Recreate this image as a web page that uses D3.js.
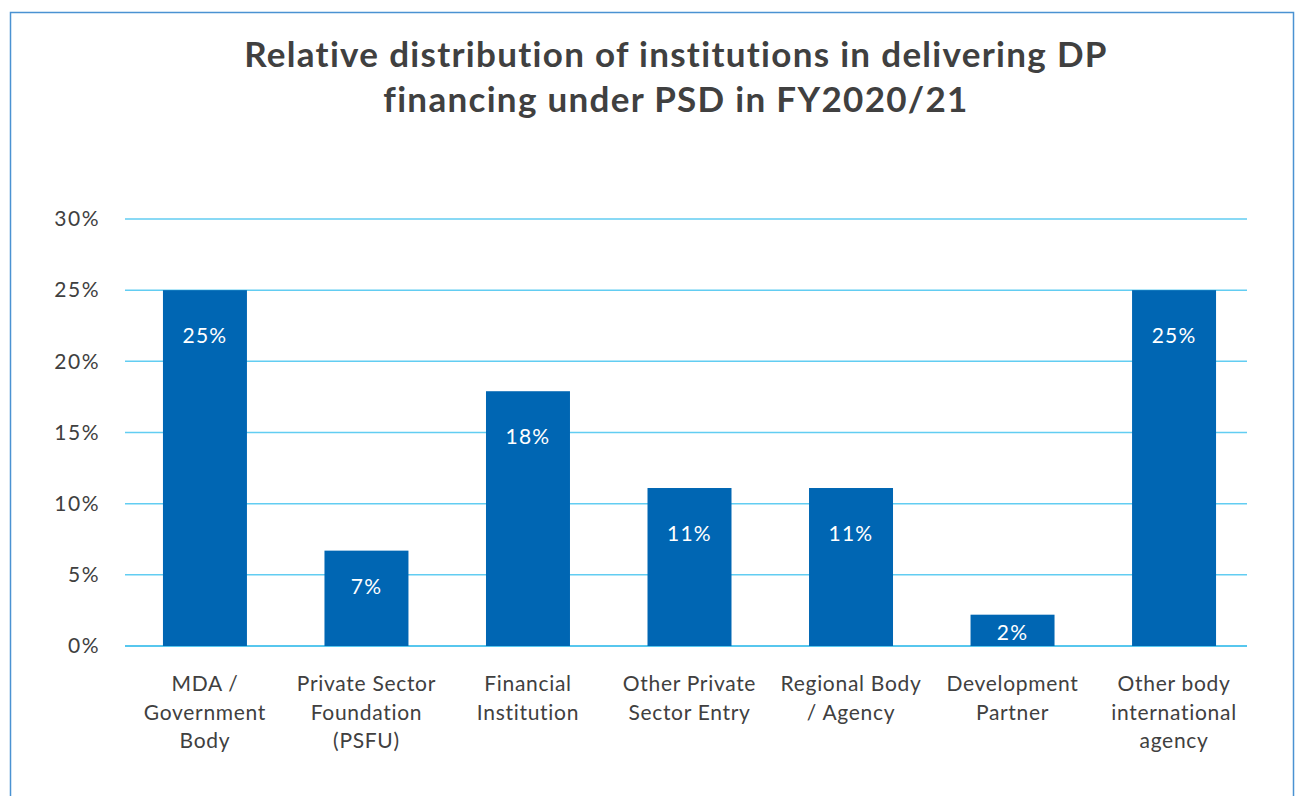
<!DOCTYPE html>
<html>
<head>
<meta charset="utf-8">
<script src="https://cdn.jsdelivr.net/npm/d3@7"></script>
<style>
  body { margin: 0; background: #fff; }
  svg { display: block; font-family: "Lato", "DejaVu Sans", sans-serif; }
</style>
</head>
<body>
<script>
// chart data
var categories = [
  ["MDA /", "Government", "Body"],
  ["Private Sector", "Foundation", "(PSFU)"],
  ["Financial", "Institution"],
  ["Other Private", "Sector Entry"],
  ["Regional Body", "/ Agency"],
  ["Development", "Partner"],
  ["Other body", "international", "agency"]
];
var values = [25, 6.7, 17.9, 11.1, 11.1, 2.2, 25];
var valueLabels = ["25%", "7%", "18%", "11%", "11%", "2%", "25%"];
var yTicks = [0, 5, 10, 15, 20, 25, 30];
var titleLines = ["Relative distribution of institutions in delivering DP",
                  "financing under PSD in FY2020/21"];

var width = 1295, height = 796;
var margin = {top: 219, left: 125};
var gridW = 1122;   // gridline length
var h = 646 - margin.top;

var svg = d3.select("body")
  .append("svg")
  .attr("width", width)
  .attr("height", height);

// outer frame
svg.append("rect")
  .attr("x", 10.5)
  .attr("y", 12.5)
  .attr("width", 1283)
  .attr("height", 800)
  .attr("fill", "none")
  .attr("stroke", "#4a92d2")
  .attr("stroke-width", 1.5);

// title
svg.append("text")
  .attr("text-anchor", "middle")
  .attr("font-weight", "bold")
  .attr("font-size", 35)
  .attr("letter-spacing", 1.3)
  .attr("fill", "#404040")
  .selectAll("tspan")
  .data(titleLines)
  .enter()
  .append("tspan")
  .attr("x", 676)
  .attr("y", function(d, i) { return 67 + i * 45; })
  .text(function(d) { return d; });

var g = svg.append("g")
  .attr("transform", "translate(" + margin.left + "," + margin.top + ")");

var x = d3.scaleBand()
  .domain(d3.range(categories.length))
  .range([0, 1129])
  .paddingInner(0.48)
  .paddingOuter(0.235);

var y = d3.scaleLinear()
  .domain([0, 30])
  .range([h, 0]);

// gridlines
g.selectAll(".grid")
  .data(yTicks)
  .enter()
  .append("line")
  .attr("class", "grid")
  .attr("x1", 0)
  .attr("x2", gridW)
  .attr("y1", function(d) { return y(d); })
  .attr("y2", function(d) { return y(d); })
  .attr("stroke", function(d) { return d === 0 ? "#1fb4e8" : "#62cdf2"; })
  .attr("stroke-width", 1.5);

// y axis labels
var yAxis = d3.axisLeft(y)
  .tickValues(yTicks)
  .tickFormat(function(d) { return d + "%"; })
  .tickSize(0)
  .tickPadding(25);

var yg = g.append("g").call(yAxis);
yg.select(".domain").remove();
yg.selectAll("text")
  .attr("font-size", 21)
  .attr("letter-spacing", 1.5)
  .attr("fill", "#404040")
  .attr("font-family", "Lato, 'DejaVu Sans', sans-serif");

// bars
g.selectAll(".bar")
  .data(values)
  .enter()
  .append("rect")
  .attr("class", "bar")
  .attr("x", function(d, i) { return x(i); })
  .attr("y", function(d) { return y(d); })
  .attr("width", x.bandwidth())
  .attr("height", function(d) { return h - y(d); })
  .attr("fill", "#0066b3");

// value labels inside bars (inside end)
g.selectAll(".vlabel")
  .data(values)
  .enter()
  .append("text")
  .attr("class", "vlabel")
  .attr("text-anchor", "middle")
  .attr("font-size", 21)
  .attr("letter-spacing", 1.2)
  .attr("fill", "#ffffff")
  .attr("x", function(d, i) { return x(i) + x.bandwidth() / 2; })
  .attr("y", function(d) {
    var top = y(d);
    var off = Math.min(46, Math.max(18, (h - top) * 0.38));
    return top + off + 7;
  })
  .text(function(d, i) { return valueLabels[i]; });

// category labels
var cat = g.selectAll(".cat")
  .data(categories)
  .enter()
  .append("text")
  .attr("class", "cat")
  .attr("text-anchor", "middle")
  .attr("font-size", 21)
  .attr("letter-spacing", 0.7)
  .attr("fill", "#404040");

cat.selectAll("tspan")
  .data(function(d, i) { return d.map(function(t) { return {t: t, i: i}; }); })
  .enter()
  .append("tspan")
  .attr("x", function(d) { return x(d.i) + x.bandwidth() / 2; })
  .attr("y", function(d, j) { return h + 45 + j * 28.5; })
  .text(function(d) { return d.t; });
</script>
</body>
</html>
